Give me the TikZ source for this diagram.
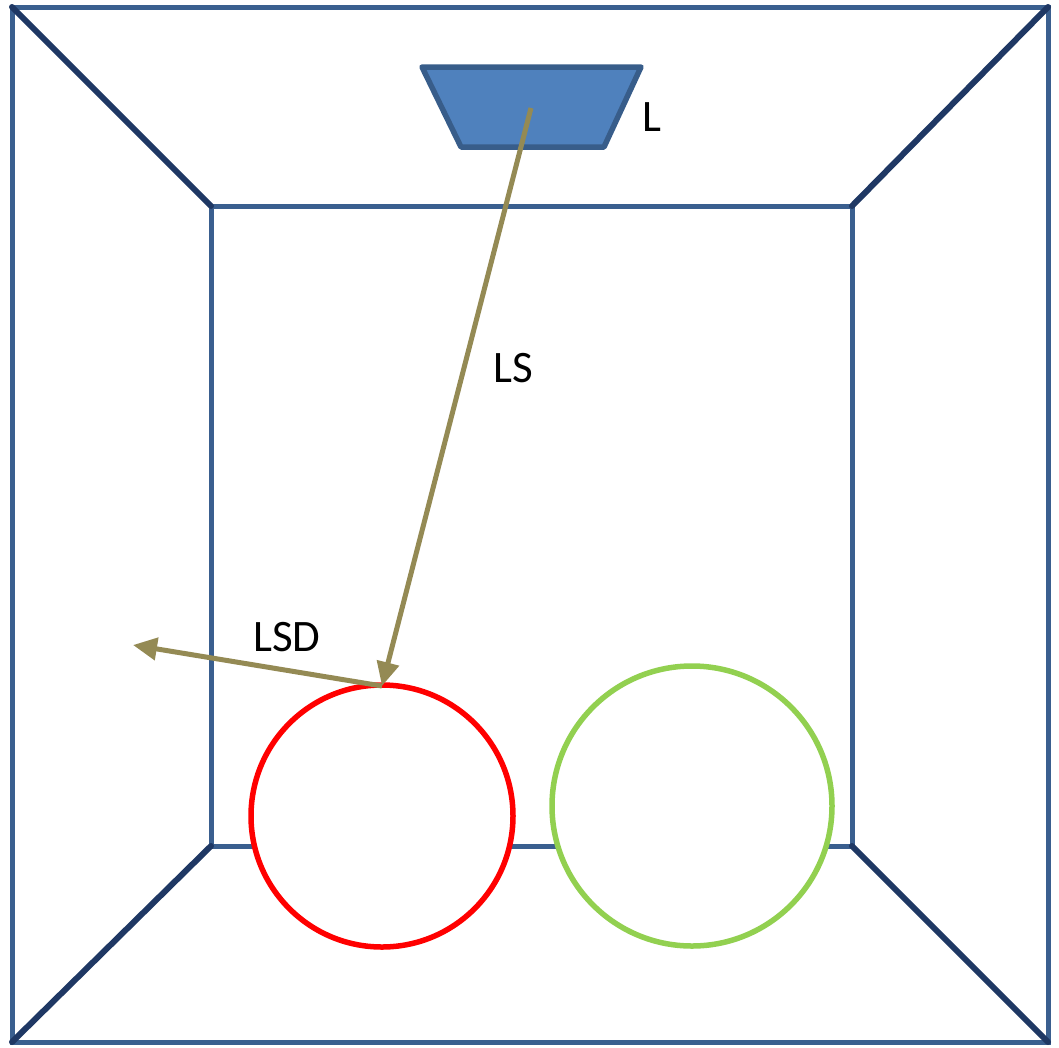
\documentclass[tikz,border=0pt]{standalone}
\usepackage{fontspec}
\setmainfont{Carlito}
\usetikzlibrary{arrows.meta}
\definecolor{wallc}{HTML}{3A5F8F}
\definecolor{edgec}{HTML}{1F3864}
\definecolor{lampfill}{HTML}{4F81BD}
\definecolor{lampdraw}{HTML}{385D8A}
\definecolor{rayc}{HTML}{948A54}
\definecolor{redc}{HTML}{FF0000}
\definecolor{greenc}{HTML}{92D050}
\tikzset{
  wall/.style={draw=wallc, line width=5pt},
  edge/.style={draw=edgec, line width=6pt, line cap=round},
  ray/.style={draw=rayc, line width=5pt, -{Triangle[length=24pt,width=22pt]}},
  ball/.style={circle, fill=white, line width=5.5pt, inner sep=0pt},
  lbl/.style={font=\fontsize{45}{48}\selectfont, inner sep=0pt}
}
\begin{document}
\begin{tikzpicture}[x=1pt,y=-1pt]
\useasboundingbox (0,0) rectangle (1059,1047);
% walls
\draw[wall] (12,7) rectangle (1048,1042);
\draw[wall] (211,206) rectangle (852,846);
\coordinate (o1) at (12,7); \coordinate (o2) at (1048,7);
\coordinate (o3) at (1048,1042); \coordinate (o4) at (12,1042);
\coordinate (i1) at (211,206); \coordinate (i2) at (852,206);
\coordinate (i3) at (852,846); \coordinate (i4) at (211,846);
\draw[edge] (o1) -- (i1);
\draw[edge] (o2) -- (i2);
\draw[edge] (o3) -- (i3);
\draw[edge] (o4) -- (i4);
% lamp
\draw[fill=lampfill, draw=lampdraw, line width=5.5pt, line join=round]
  (422,67) -- (641,67) -- (604,147) -- (461,147) -- cycle;
\coordinate (src) at (531,108);
\node[lbl] (L) at (652,117) {L};
% circles
\node[ball, draw=redc, minimum size=262pt] (red) at (382,816) {};
\node[ball, draw=greenc, minimum size=280pt] (green) at (692,806) {};
\coordinate (hit) at (382,686);
\coordinate (out) at (133,645);
\draw[ray] (src) -- (hit);
\draw[ray] (hit) -- (out);
\node[lbl] (LS) at (513,368) {LS};
\node[lbl] (LSD) at (287,637) {LSD};
\end{tikzpicture}
\end{document}
